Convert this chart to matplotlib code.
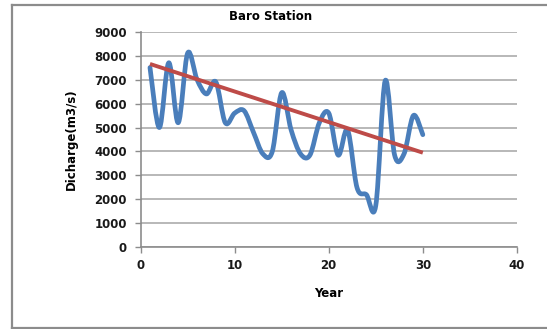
import matplotlib
matplotlib.use("Agg")
import matplotlib.pyplot as plt
from matplotlib.path import Path
from matplotlib.patches import PathPatch
from matplotlib.lines import Line2D

# Baro station annual discharge (m3/s)
years = list(range(1, 31))
discharge = [7500, 5000, 7700, 5200, 8100, 7000, 6400, 6900, 5200, 5600,
             5700, 4800, 3900, 4000, 6450, 4900, 3900, 3850, 5200, 5600,
             3850, 4900, 2500, 2200, 1750, 6950, 3850, 3900, 5500, 4700]

# linear trend line end points
trend_years = [1, 30]
trend_values = [7650, 3950]

x_ticks = [0, 10, 20, 30, 40]
y_ticks = list(range(0, 9001, 1000))


def smooth_path(xs, ys):
    # Excel style smoothed line: cubic bezier through every point
    pts = list(zip(xs, ys))
    verts = [pts[0]]
    codes = [Path.MOVETO]
    n = len(pts)
    for i in range(n - 1):
        p0 = pts[i - 1] if i > 0 else pts[i]
        p1 = pts[i]
        p2 = pts[i + 1]
        p3 = pts[i + 2] if i + 2 < n else pts[i + 1]
        c1 = (p1[0] + (p2[0] - p0[0]) / 6, p1[1] + (p2[1] - p0[1]) / 6)
        c2 = (p2[0] - (p3[0] - p1[0]) / 6, p2[1] - (p3[1] - p1[1]) / 6)
        verts += [c1, c2, p2]
        codes += [Path.CURVE4] * 3
    return Path(verts, codes)


fig = plt.figure(figsize=(5.47, 3.29), dpi=100)
ax = fig.add_axes([0.257, 0.248, 0.688, 0.656])

# outer chart frame (right side is cut off in the original)
frame = dict(color="#8c8c8c", linewidth=1.6, transform=fig.transFigure)
fig.lines.append(Line2D([0.022, 1.0], [0.984, 0.984], **frame))
fig.lines.append(Line2D([0.022, 0.022], [0.004, 0.984], **frame))
fig.lines.append(Line2D([0.022, 1.0], [0.004, 0.004], **frame))

ax.set_xlim(0, 40)
ax.set_ylim(0, 9000)
ax.set_xticks(x_ticks)
ax.set_yticks(y_ticks)
ax.grid(axis="y", color="#ababab", linewidth=1.2)
ax.set_axisbelow(True)

ax.add_patch(PathPatch(smooth_path(years, discharge), fill=False,
                       edgecolor="#4a7ebb", linewidth=3.4, capstyle="round",
                       joinstyle="round", zorder=3))
ax.plot(trend_years, trend_values, color="#be4b48", linewidth=2.8,
        solid_capstyle="butt", zorder=4)

for side in ["top", "right"]:
    ax.spines[side].set_visible(False)
for side in ["left", "bottom"]:
    ax.spines[side].set_color("#8c8c8c")
    ax.spines[side].set_linewidth(1.2)
ax.tick_params(colors="#8c8c8c", length=4, width=1.0, labelcolor="#1a1a1a",
               labelsize=8.5)
ax.tick_params(axis="y", pad=6)
ax.tick_params(axis="x", pad=4)
for lab in ax.get_xticklabels() + ax.get_yticklabels():
    lab.set_fontweight("bold")

ax.set_xlabel("Year", fontsize=8.5, fontweight="bold", labelpad=11)
ax.set_ylabel("Dicharge(m3/s)", fontsize=8.5, fontweight="bold", labelpad=12)
fig.text(271 / 547, 1 - 17 / 329, "Baro Station", ha="center", va="center",
         fontsize=8.5, fontweight="bold")

fig.savefig("out.png", dpi=100)
